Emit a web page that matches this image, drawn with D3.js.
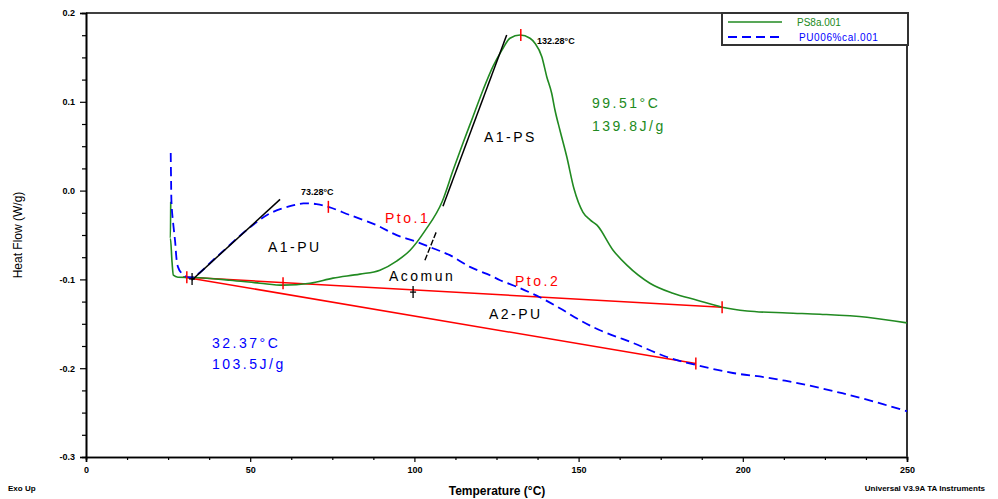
<!DOCTYPE html>
<html><head><meta charset="utf-8">
<script src="https://cdn.jsdelivr.net/npm/d3@7"></script>
<style>
html,body{margin:0;padding:0;background:#fff;}
svg{display:block;}
text{font-family:"Liberation Sans",Arial,sans-serif;}
</style></head><body>
<svg id="c" width="998" height="499"></svg>
<script>
// ---- data ----
const psTemp = [25.8,25.7,26.2,26.6,28.0,32.7,43.8,53.0,60.0,68.2,75.2,83.4,89.5,94.7,98.7,103.2,108.5,111.8,114.8,117.8,120.9,123.9,126.7,129.1,132.2,135.2,136.7,138.8,140.3,141.8,142.8,144.3,146.4,148.6,151.3,153.5,155.6,160.5,164.7,171.7,178.7,186.1,193.7,201.3,213.5,223.5,237.8,250];
const psFlow = [-0.0126,-0.0536,-0.0806,-0.0953,-0.0975,-0.0979,-0.1009,-0.1043,-0.1065,-0.1043,-0.0986,-0.0941,-0.0896,-0.0791,-0.0671,-0.0453,-0.012,0.0231,0.0536,0.0829,0.1133,0.1396,0.1584,0.1716,0.1753,0.1716,0.166,0.1508,0.1283,0.1096,0.0908,0.0682,0.0381,0.002,-0.0242,-0.033,-0.0389,-0.0671,-0.084,-0.1043,-0.1156,-0.1234,-0.1313,-0.1355,-0.1378,-0.1392,-0.1426,-0.149];
const puTemp = [25.8,25.9,26.1,27.1,28.0,29.1,30.7,32.7,39.8,48.9,56.0,62.1,66.2,70.2,73.8,80.4,88.5,94.6,100.7,105.8,110.8,116.9,123.0,126.1,132.2,138.2,144.3,150.4,156.5,166.6,176.9,186.1,197.0,207.4,217.4,227.5,237.8,250];
const puFlow = [0.0423,0.0141,-0.0183,-0.0558,-0.0859,-0.093,-0.0972,-0.0972,-0.0746,-0.0445,-0.0257,-0.0175,-0.0144,-0.0152,-0.0183,-0.0276,-0.0389,-0.0502,-0.0577,-0.0652,-0.0727,-0.0859,-0.0953,-0.1009,-0.1099,-0.1201,-0.1325,-0.146,-0.1573,-0.1716,-0.1874,-0.1967,-0.2054,-0.2106,-0.2174,-0.2257,-0.2354,-0.2485];
// baselines (red)
const base1Temp = [29.6,193.7], base1Flow = [-0.0972,-0.1313];
const base2Temp = [29.6,185.7], base2Flow = [-0.0972,-0.1948];
// tangents (black)
const tanPUTemp = [32.2,59.1], tanPUFlow = [-0.1009,-0.0099];
const tanPSTemp = [108.7,128.1], tanPSFlow = [-0.0175,0.1753];
const tanMidTemp = [103.2,106.8], tanMidFlow = [-0.0784,-0.0453];
// red tick marks
const redTickTemp = [30.7,60.0,193.7,185.7,132.4,73.8];
const redTickFlow = [-0.0977,-0.1043,-0.1313,-0.1948,0.1753,-0.0183];
// black plus marks
const plusTemp = [32.3,99.6], plusFlow = [-0.0995,-0.1143];
// axis ticks
const xTicks = [0,50,100,150,200,250];
const xTickLabels = ["0","50","100","150","200","250"];
const xMinor = [12.5,25,37.5,62.5,75,87.5,112.5,125,137.5,162.5,175,187.5,212.5,225,237.5];
const yTicks = [0.2,0.1,0.0,-0.1,-0.2,-0.3];
const yTickLabels = ["0.2","0.1","0.0","-0.1","-0.2","-0.3"];
const yMinor = [];
[0.175,0.15,0.125,0.075,0.05,0.025,-0.025,-0.05,-0.075,-0.125,-0.15,-0.175,-0.225,-0.25,-0.275].forEach(v=>yMinor.push(v));
const seriesNames = ["PS8a.001","PU006%cal.001"];

// ---- drawing ----
const svg = d3.select("#c");
const x = d3.scaleLinear().domain([0,250]).range([86,907]);
const y = d3.scaleLinear().domain([-0.3,0.2]).range([457,13]);
const GREEN = "#218a21", BLUE = "#0000ff", RED = "#ff0000";

// axes
const gx = svg.append("g").attr("transform",`translate(0,${y(-0.3)})`)
  .call(d3.axisBottom(x).tickValues(xTicks).tickSize(5).tickFormat((d,i)=>xTickLabels[i]));
const gxm = svg.append("g").attr("transform",`translate(0,${y(-0.3)})`)
  .call(d3.axisBottom(x).tickValues(xMinor).tickSize(3).tickFormat(""));
const gy = svg.append("g").attr("transform",`translate(${x(0)},0)`)
  .call(d3.axisLeft(y).tickValues(yTicks).tickSize(6).tickFormat((d,i)=>yTickLabels[i]));
const gym = svg.append("g").attr("transform",`translate(${x(0)},0)`)
  .call(d3.axisLeft(y).tickValues(yMinor).tickSize(4).tickFormat(""));
[gx,gxm,gy,gym].forEach(g=>{
  g.select(".domain").attr("stroke","#000").attr("stroke-width",1.6);
  g.selectAll(".tick line").attr("stroke","#000").attr("stroke-width",1.2);
  g.selectAll(".tick text").attr("font-family","'DejaVu Sans',sans-serif").attr("font-weight","bold").attr("font-size",9).attr("fill","#000");
});
gx.selectAll(".tick text").attr("dy","0.9em");
gy.selectAll(".tick text").attr("dx","-2");
// top & right frame
svg.append("line").attr("x1",x(0)).attr("x2",x(250)).attr("y1",y(0.2)).attr("y2",y(0.2)).attr("stroke","#000").attr("stroke-width",1.6);
svg.append("line").attr("x1",x(250)).attr("x2",x(250)).attr("y1",y(0.2)).attr("y2",y(-0.3)).attr("stroke","#333").attr("stroke-width",2);

const line = d3.line().x(d=>x(d[0])).y(d=>y(d[1]));
const zip = (a,b)=>a.map((v,i)=>[v,b[i]]);

// baselines
svg.append("path").datum(zip(base2Temp,base2Flow)).attr("d",line).attr("fill","none").attr("stroke",RED).attr("stroke-width",1.5);
svg.append("path").datum(zip(base1Temp,base1Flow)).attr("d",line).attr("fill","none").attr("stroke",RED).attr("stroke-width",1.5);
// curves
svg.append("path").datum(zip(psTemp,psFlow)).attr("d",line.curve(d3.curveMonotoneX)).attr("fill","none").attr("stroke",GREEN).attr("stroke-width",1.6);
svg.append("path").datum(zip(puTemp,puFlow)).attr("d",d3.line().x(d=>x(d[0])).y(d=>y(d[1])).curve(d3.curveCatmullRom)).attr("fill","none").attr("stroke",BLUE).attr("stroke-width",1.8).attr("stroke-dasharray","9,5");
// tangents
const line2 = d3.line().x(d=>x(d[0])).y(d=>y(d[1]));
[[tanPUTemp,tanPUFlow],[tanPSTemp,tanPSFlow]].forEach(([t,f])=>{
  svg.append("path").datum(zip(t,f)).attr("d",line2).attr("fill","none").attr("stroke","#000").attr("stroke-width",1.5);
});
svg.append("path").datum(zip(tanMidTemp,tanMidFlow)).attr("d",line2).attr("fill","none").attr("stroke","#000").attr("stroke-width",1.4).attr("stroke-dasharray","6,2");
// red ticks
zip(redTickTemp,redTickFlow).forEach(d=>{
  svg.append("line").attr("x1",x(d[0])).attr("x2",x(d[0])).attr("y1",y(d[1])-6).attr("y2",y(d[1])+6).attr("stroke",RED).attr("stroke-width",1.5);
});
// black plus marks
zip(plusTemp,plusFlow).forEach(d=>{
  svg.append("line").attr("x1",x(d[0])).attr("x2",x(d[0])).attr("y1",y(d[1])-6).attr("y2",y(d[1])+6).attr("stroke","#000").attr("stroke-width",1.3);
  svg.append("line").attr("x1",x(d[0])-3).attr("x2",x(d[0])+3).attr("y1",y(d[1])).attr("y2",y(d[1])).attr("stroke","#000").attr("stroke-width",1.3);
});

// annotations
function txt(px,py,s,opt){
  const t = svg.append("text").attr("x",px).attr("y",py).text(s)
    .attr("font-size",opt.size||14).attr("fill",opt.fill||"#000")
    .attr("letter-spacing",opt.ls!=null?opt.ls:2.5);
  if(opt.bold) t.attr("font-weight","bold");
  if(opt.family) t.attr("font-family",opt.family);
  if(opt.anchor) t.attr("text-anchor",opt.anchor);
  return t;
}
txt(537,44,"132.28°C",{size:9,bold:true,ls:0,family:"'DejaVu Sans',sans-serif"});
txt(301,195,"73.28°C",{size:9,bold:true,ls:0,family:"'DejaVu Sans',sans-serif"});
txt(592,108,"99.51°C",{fill:GREEN});
txt(592,131,"139.8J/g",{fill:GREEN});
txt(484,142,"A1-PS",{});
txt(268,252,"A1-PU",{});
txt(385,223,"Pto.1",{fill:RED});
txt(389,281,"Acomun",{});
txt(515,286,"Pto.2",{fill:RED});
txt(489,319,"A2-PU",{});
txt(212,348,"32.37°C",{fill:BLUE});
txt(212,369,"103.5J/g",{fill:BLUE});

// axis titles
svg.append("text").attr("transform","translate(22,235) rotate(-90)").attr("text-anchor","middle")
  .attr("font-size",12).text("Heat Flow (W/g)");
svg.append("text").attr("x",497).attr("y",495).attr("text-anchor","middle")
  .attr("font-size",12).attr("font-weight","bold").attr("font-family","'DejaVu Sans Condensed','DejaVu Sans',sans-serif").text("Temperature (°C)");
svg.append("text").attr("x",8).attr("y",491).attr("font-size",8).attr("font-weight","bold").attr("font-family","'DejaVu Sans',sans-serif").text("Exo Up");
svg.append("text").attr("x",985).attr("y",491).attr("text-anchor","end").attr("font-size",8).attr("font-weight","bold").attr("font-family","'DejaVu Sans Condensed','DejaVu Sans',sans-serif").text("Universal V3.9A TA Instruments");

// legend
const lg = svg.append("g");
lg.append("rect").attr("x",722).attr("y",13).attr("width",186).attr("height",32).attr("fill","#fff").attr("stroke","#333").attr("stroke-width",2);
lg.append("line").attr("x1",728).attr("x2",782).attr("y1",22).attr("y2",22).attr("stroke",GREEN).attr("stroke-width",1.6);
lg.append("line").attr("x1",728).attr("x2",782).attr("y1",37).attr("y2",37).attr("stroke",BLUE).attr("stroke-width",1.8).attr("stroke-dasharray","9,5");
lg.append("text").attr("x",797).attr("y",26).attr("font-size",10).attr("fill",GREEN).text(seriesNames[0]);
lg.append("text").attr("x",799).attr("y",41).attr("font-size",10).attr("fill",BLUE).attr("letter-spacing",0.6).text(seriesNames[1]);
</script>
</body></html>
